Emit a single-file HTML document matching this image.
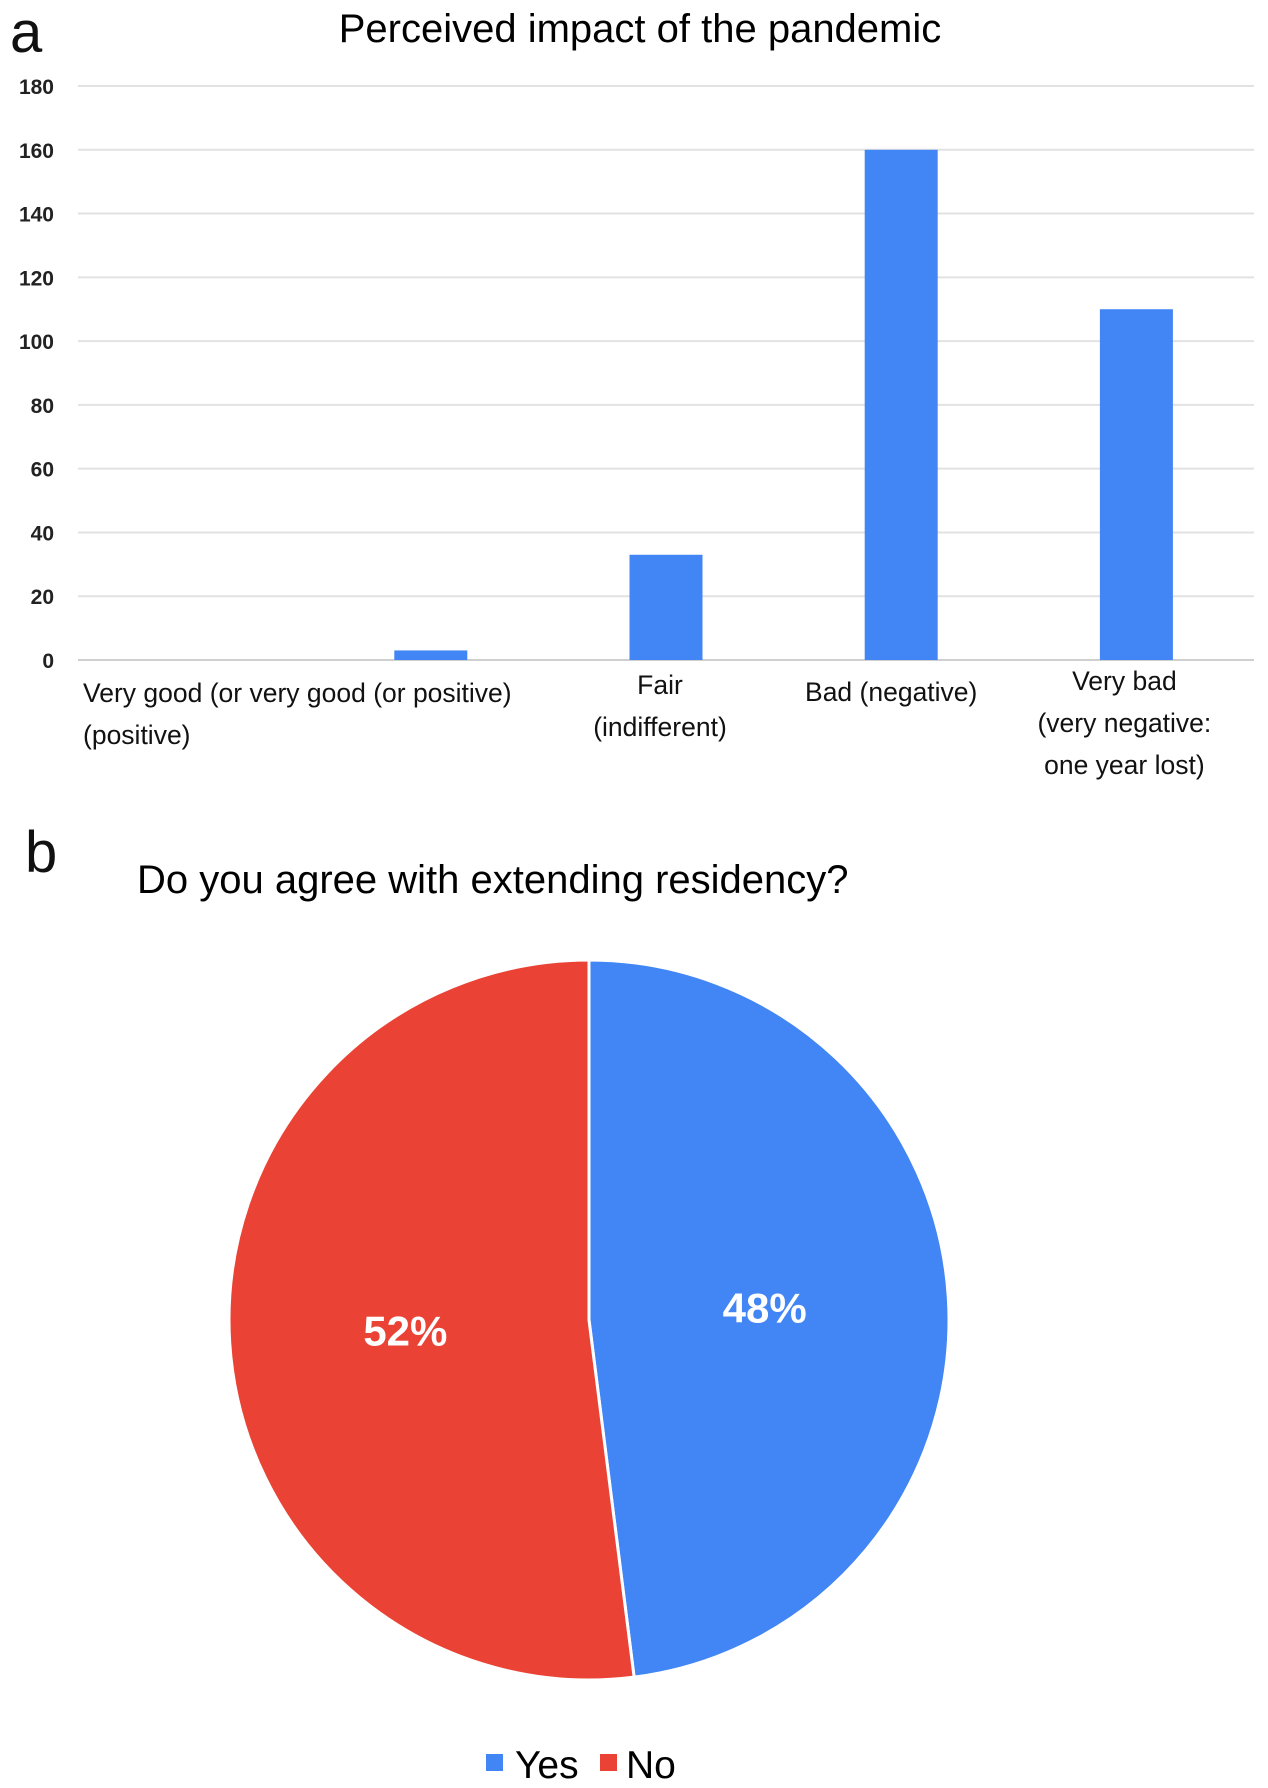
<!DOCTYPE html>
<html><head><meta charset="utf-8"><style>
html,body{margin:0;padding:0;background:#fff;}
svg{display:block;font-family:"Liberation Sans",Arial,sans-serif;}
</style></head><body>
<svg id="fig" width="1268" height="1788" viewBox="0 0 1268 1788">
<text x="10" y="52" font-size="58" fill="#111">a</text>
<text x="640" y="42" font-size="40" text-anchor="middle" fill="#000">Perceived impact of the pandemic</text>
<g id="grid"></g><g id="bars"></g><g id="xlabels"></g>
<text x="25" y="872" font-size="58" fill="#111">b</text>
<text x="137" y="893" font-size="40" fill="#000">Do you agree with extending residency?</text>
<g id="pie"></g>
<g>
<rect x="486" y="1754" width="17" height="17" fill="#4285f4"/>
<text x="515" y="1778" font-size="39" fill="#000">Yes</text>
<rect x="600" y="1754" width="17" height="17" fill="#ea4335"/>
<text x="626" y="1778" font-size="39" fill="#000">No</text>
</g>
</svg>
<script>
const categories=["Very good (positive)","Good","Fair (indifferent)","Bad (negative)","Very bad (very negative: one year lost)"];
const values=[0,3,33,160,110];
const yTicks=[0,20,40,60,80,100,120,140,160,180];
const pieLabels=["Yes","No"];
const pieValues=[48,52];
const NS="http://www.w3.org/2000/svg";
function mk(tag,attrs,parent){const e=document.createElementNS(NS,tag);for(const k in attrs)e.setAttribute(k,attrs[k]);parent.appendChild(e);return e;}
const x0=78,x1=1254,y0=660,yTop=86,yMax=180;
const y=v=>y0-(v/yMax)*(y0-yTop);
const bandW=(x1-x0)/categories.length;
const xc=i=>x0+bandW*(i+0.5);
const grid=document.getElementById('grid');
yTicks.forEach(t=>{
 const l=mk('line',{x1:x0,x2:x1,y1:y(t),y2:y(t),stroke:t===0?'#cfcfcf':'#e2e2e2','stroke-width':2},grid);
 
 
 const tx=mk('text',{x:54,y:y(t)+8,'font-size':21,'font-weight':'bold','text-anchor':'end',fill:'#222'},grid);
 tx.textContent=t;
 
 
});
const bars=document.getElementById('bars');
const bw=73;
values.forEach((v,i)=>{
 if(v<=0)return;
 const r=mk('rect',{x:xc(i)-bw/2,y:y(v),width:bw,height:y0-y(v),fill:'#4285f4'},bars);
 
 
});
const xl=document.getElementById('xlabels');
const labelLines=[
 {x:83,anchor:'start',y:[702,744],lines:["Very good (or very good (or positive)","(positive)"]},
 null,
 {x:xc(2)-6,anchor:'middle',y:[694,736],lines:["Fair","(indifferent)"]},
 {x:xc(3)-10,anchor:'middle',y:[701],lines:["Bad (negative)"]},
 {x:xc(4)-12,anchor:'middle',y:[690,732,774],lines:["Very bad","(very negative:","one year lost)"]}
];
labelLines.forEach((L,i)=>{
 if(!L)return;
 L.lines.forEach((s,j)=>{
  const t=mk('text',{x:L.x,y:L.y[j],'font-size':26.5,'text-anchor':L.anchor,fill:'#111'},xl);
  t.textContent=s;
  
  
 });
});
const pie=document.getElementById('pie');
const cx=589,cy=1320,R=360;
const total=pieValues.reduce((a,b)=>a+b,0);
const colors=["#4285f4","#ea4335"];
let a=0;
pieValues.forEach((v,i)=>{
 const a2=a+v/total*2*Math.PI;
 const p=(t)=>[cx+R*Math.sin(t),cy-R*Math.cos(t)];
 const [sx,sy]=p(a),[ex,ey]=p(a2);
 const large=(a2-a)>Math.PI?1:0;
 const path=mk('path',{d:`M${cx},${cy} L${sx},${sy} A${R},${R} 0 ${large} 1 ${ex},${ey} Z`,fill:colors[i],stroke:'#fff','stroke-width':3},pie);
 
 
 const mid=(a+a2)/2;
 const lx=cx+R*0.5*Math.sin(mid),ly=cy-R*0.5*Math.cos(mid);
 const t=mk('text',{x:lx-4,y:ly+14,'font-size':42,'font-weight':'bold','text-anchor':'middle',fill:'#fff'},pie);
 t.textContent=Math.round(v/total*100)+'%';
 
 
 a=a2;
});
</script>
</body></html>
